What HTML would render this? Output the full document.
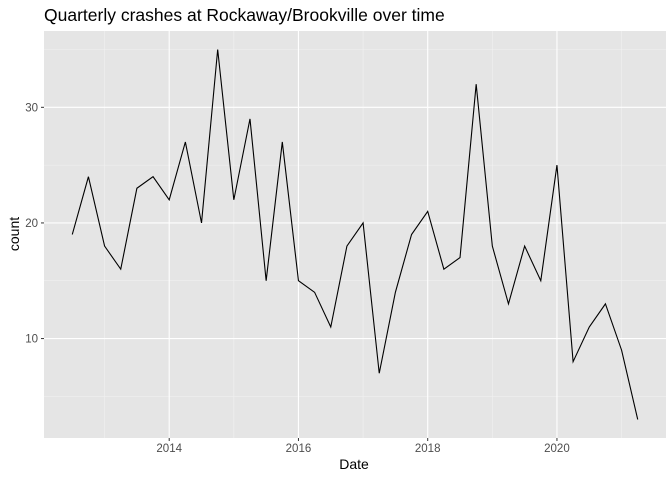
<!DOCTYPE html>
<html><head><meta charset="utf-8"><style>
html,body{margin:0;padding:0;background:#fff;}
svg{display:block;font-family:"Liberation Sans",Arial,sans-serif;}
</style></head><body>
<svg id="chart" width="672" height="480" xmlns="http://www.w3.org/2000/svg">
<text x="44" y="21" font-size="17.5" fill="#000">Quarterly crashes at Rockaway/Brookville over time</text>
<rect x="44" y="31" width="622" height="407" fill="#e5e5e5"/>
<g id="grid"></g>
<g id="axes"></g>
<path id="line" fill="none" stroke="#000" stroke-width="1.1"/>
<text x="354" y="469" font-size="14" text-anchor="middle" fill="#000">Date</text>
<text transform="translate(19,234) rotate(-90)" font-size="14" text-anchor="middle" fill="#000">count</text>
</svg>
<script>
const dates = [2012.5,2012.75,2013,2013.25,2013.5,2013.75,2014,2014.25,2014.5,2014.75,2015,2015.25,2015.5,2015.75,2016,2016.25,2016.5,2016.75,2017,2017.25,2017.5,2017.75,2018,2018.25,2018.5,2018.75,2019,2019.25,2019.5,2019.75,2020,2020.25,2020.5,2020.75,2021,2021.25];
const counts = [19,24,18,16,23,24,22,27,20,35,22,29,15,27,15,14,11,18,20,7,14,19,21,16,17,32,18,13,18,15,25,8,11,13,9,3];
const xTicks = [2014,2016,2018,2020];
const xMinor = [2013,2015,2017,2019,2021];
const yTicks = [10,20,30];
const yMinor = [5,15,25,35];

const NS="http://www.w3.org/2000/svg";
const PL=44, PR=666, PT=31, PB=438;
const xmin=Math.min(...dates), xmax=Math.max(...dates);
const ymin=Math.min(...counts), ymax=Math.max(...counts);
const xe=(xmax-xmin)*0.05, ye=(ymax-ymin)*0.05;
function X(v){return PL+(v-(xmin-xe))/((xmax+xe)-(xmin-xe))*(PR-PL);}
function Y(v){return PB-(v-(ymin-ye))/((ymax+ye)-(ymin-ye))*(PB-PT);}
function mk(tag,attrs,parent){const e=document.createElementNS(NS,tag);for(const k in attrs)e.setAttribute(k,attrs[k]);parent.appendChild(e);return e;}
const grid=document.getElementById('grid'), axes=document.getElementById('axes');
yMinor.forEach(v=>{const y=Y(v);if(y<PT||y>PB)return;
 const l=mk('line',{x1:PL,x2:PR,y1:y,y2:y,stroke:'#f2f2f2','stroke-width':0.6},grid);
 
 });
xMinor.forEach(v=>{const x=X(v);if(x<PL||x>PR)return;
 const l=mk('line',{x1:x,x2:x,y1:PT,y2:PB,stroke:'#f2f2f2','stroke-width':0.6},grid);
 
 });
yTicks.forEach(v=>{const y=Y(v);
 const l=mk('line',{x1:PL,x2:PR,y1:y,y2:y,stroke:'#fff','stroke-width':1.1},grid);
 
 
 mk('line',{x1:PL-3,x2:PL,y1:y,y2:y,stroke:'#333','stroke-width':1},axes);
 const t=mk('text',{x:PL-6,y:y+4,'font-size':11.5,'text-anchor':'end',fill:'#4d4d4d'},axes);
 t.textContent=v;
 
 });
xTicks.forEach(v=>{const x=X(v);
 const l=mk('line',{x1:x,x2:x,y1:PT,y2:PB,stroke:'#fff','stroke-width':1.1},grid);
 
 
 mk('line',{x1:x,x2:x,y1:PB,y2:PB+3,stroke:'#333','stroke-width':1},axes);
 const t=mk('text',{x:x,y:PB+14,'font-size':11.5,'text-anchor':'middle',fill:'#4d4d4d'},axes);
 t.textContent=v;
 
 });
document.getElementById('line').setAttribute('d',dates.map((d,i)=>(i?'L':'M')+X(d).toFixed(2)+','+Y(counts[i]).toFixed(2)).join(''));
</script>
</body></html>
